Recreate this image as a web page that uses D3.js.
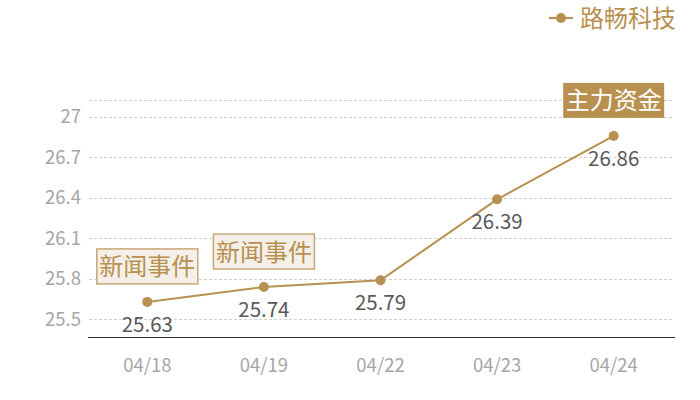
<!DOCTYPE html>
<html><head><meta charset="utf-8">
<script src="https://cdn.jsdelivr.net/npm/d3@7"></script>
<style>
html,body{margin:0;padding:0;background:#fff;}
svg{display:block;font-family:"Noto Sans CJK SC","Noto Sans",sans-serif;}
</style></head>
<body>
<svg id="chart" width="700" height="400"></svg>
<script>
const categories = ["04/18","04/19","04/22","04/23","04/24"];
const values = [25.63,25.74,25.79,26.39,26.86];
const seriesName = "路畅科技";
const yTicks = [25.5,25.8,26.1,26.4,26.7,27];
const annotations = [
  {index:0, text:"新闻事件", kind:"news"},
  {index:1, text:"新闻事件", kind:"news"},
  {index:4, text:"主力资金", kind:"fund"}
];

const gold = "#b8904f";
const svg = d3.select("#chart");
const x = d3.scaleBand().domain(categories).range([89,672]);
const y = d3.scaleLinear().domain([25.37,27.126]).range([337,100]);
const cx = d => x(d) + x.bandwidth()/2;

// gridlines
const gridVals = yTicks.concat([y.domain()[1]]);
svg.append("g").selectAll("line").data(gridVals).join("line")
  .attr("x1",89).attr("x2",672)
  .attr("y1",d=>Math.round(y(d))+0.5).attr("y2",d=>Math.round(y(d))+0.5)
  .attr("stroke","#d0d0d0").attr("stroke-dasharray","3,2").attr("stroke-width",1);

// y axis
const yAxis = d3.axisLeft(y).tickValues(yTicks).tickSize(0).tickPadding(8).tickFormat(d3.format("~g"));
const yg = svg.append("g").attr("transform","translate(89,0)").call(yAxis);
yg.select(".domain").remove();
yg.selectAll("text").attr("fill","#a6a6a6").attr("font-size",18.5)
  .attr("font-family","'Noto Sans CJK SC','Noto Sans',sans-serif");

// x axis
const xAxis = d3.axisBottom(x).tickSize(0).tickPadding(22);
const xg = svg.append("g").attr("transform","translate(0,337)").call(xAxis);
xg.select(".domain").attr("stroke","#333").attr("d","M88,0.5H675");
xg.selectAll("text").attr("fill","#a6a6a6").attr("font-size",18.5)
  .attr("font-family","'Noto Sans CJK SC','Noto Sans',sans-serif");

// line
const data = categories.map((c,i)=>({c, v:values[i]}));
svg.append("path").datum(data)
  .attr("d", d3.line().x(d=>cx(d.c)).y(d=>y(d.v)))
  .attr("fill","none").attr("stroke",gold).attr("stroke-width",2);
svg.append("g").selectAll("circle").data(data).join("circle")
  .attr("cx",d=>cx(d.c)).attr("cy",d=>y(d.v)).attr("r",5).attr("fill",gold);

// value labels
svg.append("g").selectAll("text").data(data).join("text")
  .attr("x",d=>cx(d.c)).attr("y",d=>y(d.v)+30)
  .attr("text-anchor","middle").attr("font-size",20.5).attr("fill","#595959")
  .text(d=>d.v.toFixed(2));

// annotations
const ann = svg.append("g").selectAll("g").data(annotations).join("g")
  .attr("transform",a=>`translate(${cx(categories[a.index])},${y(values[a.index])-18})`);
ann.append("rect")
  .attr("x",-50.5).attr("y",-35).attr("width",101).attr("height",35)
  .attr("fill",a=>a.kind==="fund"?gold:"#f4efe8")
  .attr("stroke",a=>a.kind==="fund"?"none":"#c9a774").attr("stroke-width",1.5);
ann.append("text").attr("x",0).attr("y",-8.5).attr("text-anchor","middle")
  .attr("font-size",24).attr("fill",a=>a.kind==="fund"?"#fff":gold)
  .text(a=>a.text);

// legend
const lg = svg.append("g").attr("transform","translate(549,18)");
lg.append("line").attr("x1",0).attr("x2",24).attr("y1",0).attr("y2",0).attr("stroke",gold).attr("stroke-width",2);
lg.append("circle").attr("cx",12).attr("cy",0).attr("r",5).attr("fill",gold);
lg.append("text").attr("x",31).attr("y",9).attr("font-size",24).attr("fill",gold).text(seriesName);
</script>
</body></html>
